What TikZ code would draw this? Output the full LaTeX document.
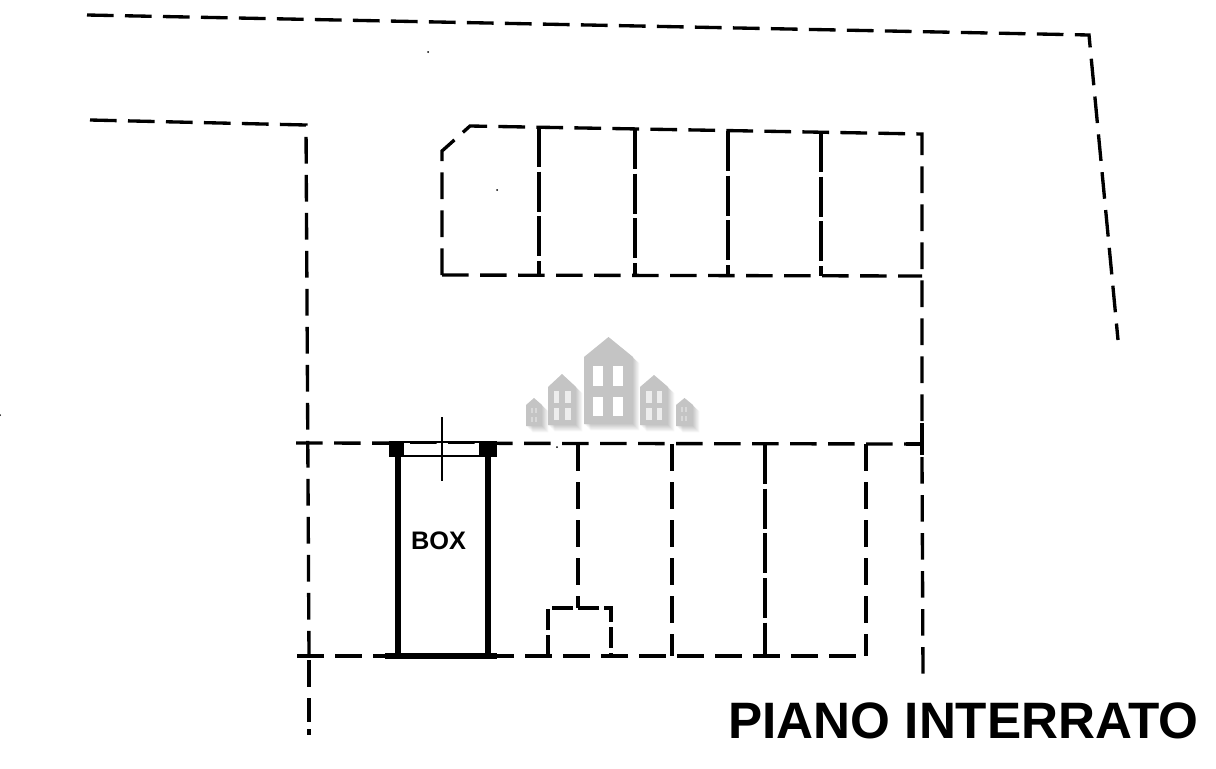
\documentclass[tikz,border=0pt]{standalone}
\usepackage{fontspec}
\setmainfont{Liberation Sans}
\tikzset{
  x=0.75pt,y=-0.75pt,
  plan/.style={line width=2.5pt,black,dash pattern=on 20pt off 8.5pt},
  planfine/.style={line width=2.5pt,black,dash pattern=on 30pt off 3.5pt},
  solidwall/.style={line width=4.4pt,black},
  thin rule/.style={line width=1.3pt,black},
  shadowhouse/.style={fill=black,opacity=.035,draw=none},
  househouse/.style={fill=black!23,draw=none},
}
% x left, x right, y bottom, y eaves, y peak
\newcommand{\houseshape}[6]{%
  \fill[#6] (#1,#3) -- (#1,#4) -- ({(#1+#2)/2},#5) -- (#2,#4) -- (#2,#3) -- cycle;}
\newcommand{\winrow}[5]{%
  \fill[white,opacity=#5] (#1,#3) rectangle ++(#2,#4);}
\newcommand{\allhouses}[1]{%
  \houseshape{584}{633}{424}{357}{337}{#1}
  \houseshape{548}{576}{425}{387}{374}{#1}
  \houseshape{640}{668}{425}{387}{375}{#1}
  \houseshape{526}{542}{426}{405}{398}{#1}
  \houseshape{676}{693}{426}{405}{398}{#1}}
\begin{document}
\begin{tikzpicture}
\useasboundingbox[fill=white] (0,0) rectangle (1216,768);
% outer boundary top
\draw[plan] (87,15) -- (1089,35) -- (1118,340);
% left wall
\draw[plan] (90,120) -- (306,125) -- (309,657);
\draw[plan] (309,660) -- (309,722);
\draw[line width=2.5pt] (309,729) -- (309,735);
% top block of parking bays
\draw[plan] (442,275) -- (442,151) -- (470,126) -- (922,134) -- (922,444);
\draw[plan] (442,275) -- (922,276);
\draw[planfine] (539,127) -- (539,276);
\draw[planfine] (635,129) -- (635,276);
\draw[planfine] (728,131) -- (728,276);
\draw[planfine] (821,132) -- (821,276);
% lower block
\draw[plan] (296,443) -- (922,444);
\draw[line width=2.5pt] (906,444) -- (922,444);
\draw[line width=2.5pt] (922,423) -- (922,455);
\draw[plan] (922,457) -- (923,676);
\draw[plan] (297,656) -- (866,656);
\draw[plan] (578,444) -- (578,608);
\draw[plan] (672,444) -- (672,656);
\draw[planfine] (765,444) -- (765,656);
\draw[plan] (866,444) -- (866,656);
\draw[plan,dash pattern=on 16pt off 3.5pt] (548,656) -- (548,608) -- (611,608) -- (611,656);
% box
\fill[white] (398,444) rectangle (487,457);
\draw[solidwall] (398,450) -- (398,656);
\draw[solidwall] (488,450) -- (488,656);
\draw[solidwall] (385,656) -- (497,656);
\fill[black] (389,441) rectangle (404,457);
\fill[black] (479,441) rectangle (497,457);
\draw[thin rule] (404,442) -- (479,442);
\draw[thin rule] (404,456) -- (479,456);
\draw[thin rule] (442,417) -- (442,481);
\node[font=\bfseries\fontsize{19}{21}\selectfont,text=black] (boxlabel) at (438.5,541) {BOX};
% title
\node[font=\bfseries\fontsize{38.4}{42}\selectfont,text=black,anchor=east,inner sep=0pt] (title) at (1199,721) {PIANO INTERRATO};
% specks
\fill (428,52) circle (1);
\fill (497,190) circle (1);
\fill (557,447) circle (1);
\fill (0,415) circle (1);
% logo
\foreach \o in {0.8,1.6,2.4,3.2,4.0,4.8}{
  \begin{scope}[xshift=\o pt,yshift=-\o pt]
    \allhouses{shadowhouse}
  \end{scope}}
\allhouses{househouse}
\winrow{593}{10}{366}{20}{1}\winrow{613}{10}{366}{20}{1}
\winrow{593}{10}{397}{19}{1}\winrow{613}{10}{397}{19}{1}
\winrow{554}{5}{391}{12}{.7}\winrow{565}{6}{391}{12}{.7}
\winrow{554}{5}{408}{12}{.7}\winrow{565}{6}{408}{12}{.7}
\winrow{646}{6}{391}{12}{.7}\winrow{657}{5}{391}{12}{.7}
\winrow{646}{6}{408}{12}{.7}\winrow{657}{5}{408}{12}{.7}
\winrow{531}{2}{408}{5}{.35}\winrow{535}{2}{408}{5}{.35}
\winrow{531}{2}{417}{5}{.35}\winrow{535}{2}{417}{5}{.35}
\winrow{681}{2}{407}{5}{.35}\winrow{685}{2}{407}{5}{.35}
\winrow{681}{2}{416}{5}{.35}\winrow{685}{2}{416}{5}{.35}
\end{tikzpicture}
\end{document}
